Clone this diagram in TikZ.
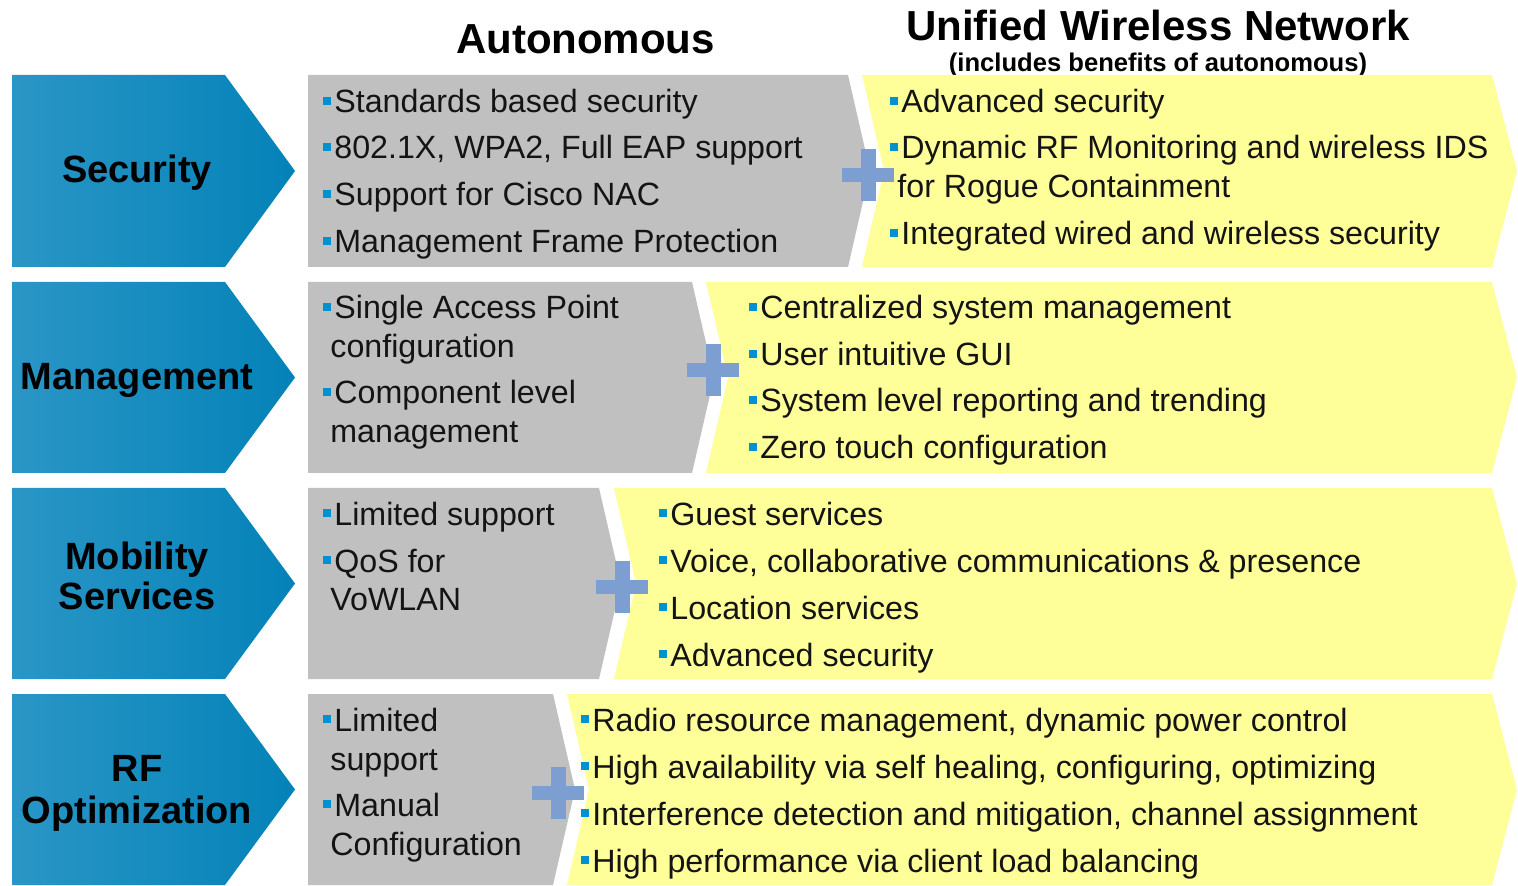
\documentclass[tikz,border=0pt]{standalone}
\usepackage{fontspec}
\setmainfont{Liberation Sans}
\definecolor{bulblue}{RGB}{0,145,210}
\definecolor{chevL}{RGB}{42,150,198}
\definecolor{chevR}{RGB}{4,130,184}
\definecolor{grayfill}{RGB}{192,192,192}
\definecolor{yellowfill}{RGB}{255,255,153}
\definecolor{plusblue}{RGB}{125,158,208}
\definecolor{txt}{RGB}{20,20,20}
\newcommand{\bul}{{\color{bulblue}\rule[4pt]{4pt}{4pt}}\hspace{1.5pt}}
\tikzset{
  item/.style={anchor=base west, inner sep=0pt, text=txt, font=\fontsize{16.1}{19}\selectfont},
  cat/.style={anchor=base, inner sep=0pt, text=black, font=\bfseries\fontsize{19}{22}\selectfont},
  head/.style={anchor=base, inner sep=0pt, text=black, font=\bfseries\fontsize{21}{25}\selectfont},
  subhead/.style={anchor=base, inner sep=0pt, text=black, font=\bfseries\fontsize{12.8}{15}\selectfont},
  chev/.style={left color=chevL, right color=chevR, draw=none},
  graybox/.style={fill=grayfill, draw=none},
  yelbox/.style={fill=yellowfill, draw=none},
  plus/.style={fill=plusblue, draw=none}
}
\begin{document}
\begin{tikzpicture}[x=0.5pt,y=-0.5pt]
\fill[white] (0,0) rectangle (1518,886);
\useasboundingbox (0,0) rectangle (1518,886);

% headers
\node[head] (hauto) at (585.5,54) {Autonomous};
\node[head] (huwn) at (1158,41) {Unified Wireless Network};
\node[subhead] (hsub) at (1158,72) {(includes benefits of autonomous)};

% ---------- shapes ----------
% row 1: 75-267, mid 171
\path[chev] (12,75) -- (225,75) -- (295,171) -- (225,267) -- (12,267) -- cycle;
\path[graybox] (308,75) -- (848,75) -- (870,171) -- (848,267) -- (308,267) -- cycle;
\path[yelbox] (862,75) -- (1492,75) -- (1517,171) -- (1492,267) -- (862,267) -- (884,171) -- cycle;
% row 2: 282-473, mid 377.5
\path[chev] (12,282) -- (225,282) -- (295,377.5) -- (225,473) -- (12,473) -- cycle;
\path[graybox] (308,282) -- (692,282) -- (714,377.5) -- (692,473) -- (308,473) -- cycle;
\path[yelbox] (706,282) -- (1492,282) -- (1517,377.5) -- (1492,473) -- (706,473) -- (728,377.5) -- cycle;
% row 3: 488-679, mid 583.5
\path[chev] (12,488) -- (225,488) -- (295,583.5) -- (225,679) -- (12,679) -- cycle;
\path[graybox] (308,488) -- (599,488) -- (621,583.5) -- (599,679) -- (308,679) -- cycle;
\path[yelbox] (614,488) -- (1492,488) -- (1517,583.5) -- (1492,679) -- (614,679) -- (636,583.5) -- cycle;
% row 4: 694-885, mid 789.5
\path[chev] (12,694) -- (225,694) -- (295,789.5) -- (225,885) -- (12,885) -- cycle;
\path[graybox] (308,694) -- (553,694) -- (575,789.5) -- (553,885) -- (308,885) -- cycle;
\path[yelbox] (567,694) -- (1492,694) -- (1517,789.5) -- (1492,885) -- (567,885) -- (589,789.5) -- cycle;

% plus signs
\foreach \cx/\cy in {868/175, 713/370, 622/587, 558/793}{
  \fill[plus] (\cx-26,\cy-7) rectangle (\cx+26,\cy+7);
  \fill[plus] (\cx-7.5,\cy-26) rectangle (\cx+7.5,\cy+26);
}

% ---------- category labels ----------
\node[cat] (catsec) at (137,183) {Security};
\node[cat] (catman) at (137,390) {Management};
\node[cat] (catmob1) at (137,569) {Mobility};
\node[cat] (catmob2) at (137,609) {Services};
\node[cat] (catrf1) at (137,781) {RF};
\node[cat] (catrf2) at (137,823) {Optimization};

% ---------- row 1 ----------
\node[item] (g1a) at (323,113) {\bul Standards based security};
\node[item] (g1b) at (323,159) {\bul 802.1X, WPA2, Full EAP support};
\node[item] (g1c) at (323,206) {\bul Support for Cisco NAC};
\node[item] (g1d) at (323,253) {\bul Management Frame Protection};
\node[item] (y1a) at (890,113) {\bul Advanced security};
\node[item] (y1b) at (890,159) {\bul Dynamic RF Monitoring and wireless IDS};
\node[item] (y1bc) at (897,198) {for Rogue Containment};
\node[item] (y1c) at (890,245) {\bul Integrated wired and wireless security};

% ---------- row 2 ----------
\node[item] (g2a) at (323,319) {\bul Single Access Point};
\node[item] (g2ac) at (330,358) {configuration};
\node[item] (g2b) at (323,404) {\bul Component level};
\node[item] (g2bc) at (330,443) {management};
\node[item] (y2a) at (749,319) {\bul Centralized system management};
\node[item] (y2b) at (749,366) {\bul User intuitive GUI};
\node[item] (y2c) at (749,412) {\bul System level reporting and trending};
\node[item] (y2d) at (749,459) {\bul Zero touch configuration};

% ---------- row 3 ----------
\node[item] (g3a) at (323,525) {\bul Limited support};
\node[item] (g3b) at (323,572) {\bul QoS for};
\node[item] (g3bc) at (330,610) {VoWLAN};
\node[item] (y3a) at (659,525) {\bul Guest services};
\node[item] (y3b) at (659,572) {\bul Voice, collaborative communications \& presence};
\node[item] (y3c) at (659,619) {\bul Location services};
\node[item] (y3d) at (659,666) {\bul Advanced security};

% ---------- row 4 ----------
\node[item] (g4a) at (323,731) {\bul Limited};
\node[item] (g4ac) at (330,770) {support};
\node[item] (g4b) at (323,816) {\bul Manual};
\node[item] (g4bc) at (330,855) {Configuration};
\node[item] (y4a) at (581,731) {\bul Radio resource management, dynamic power control};
\node[item] (y4b) at (581,778) {\bul High availability via self healing, configuring, optimizing};
\node[item] (y4c) at (581,825) {\bul Interference detection and mitigation, channel assignment};
\node[item] (y4d) at (581,872) {\bul High performance via client load balancing};
\end{tikzpicture}
\end{document}
